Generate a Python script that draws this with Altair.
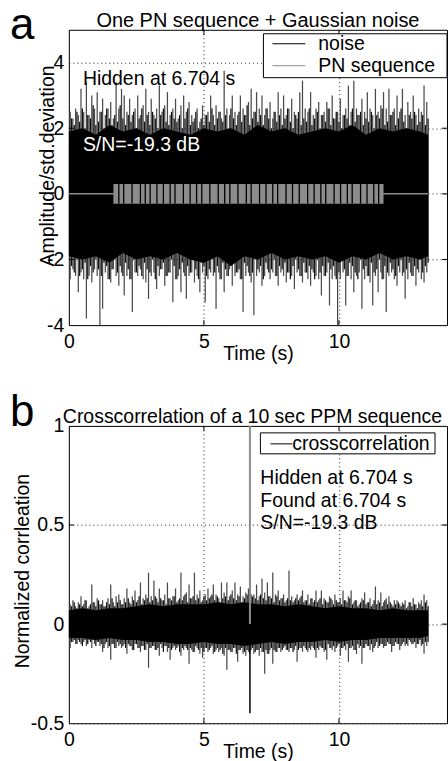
import altair as alt
import pandas as pd

# ---------------- data ----------------
# panel a: per-bin (0.1 s) extremes of the Gaussian noise
BIN_START = 0.05
BIN_STEP = 0.1
TOP_A = [2.5,2.3,2.6,2.4,3.2,2.5,3.4,2.4,3.0,2.6,
         3.1,2.5,2.9,2.4,2.6,2.8,2.3,3.4,2.6,3.2,
         3.0,2.5,2.9,2.4,2.6,3.0,2.4,2.7,3.2,2.5,
         2.9,2.4,2.6,3.3,2.5,2.7,3.1,2.4,2.6,2.9,
         2.3,2.7,3.0,2.5,2.8,2.4,2.3,2.6,2.2,2.7,
         2.4,2.5,3.0,2.4,2.7,2.5,2.3,3.75,2.6,2.4,
         3.0,2.5,2.4,3.0,2.6,2.4,2.8,3.2,2.5,3.1,
         2.6,3.0,2.4,2.6,2.8,2.3,2.5,3.1,2.6,3.0,
         2.4,2.6,2.9,2.5,2.3,3.1,3.45,2.6,2.5,3.1,
         2.4,2.6,2.8,2.4,2.5,2.8,2.6,3.0,2.3,2.5,
         2.9,2.4,2.6,3.3,2.5,3.45,2.6,2.4,2.9,2.5,
         3.1,2.6,2.4,3.2,2.5,2.7,3.1,2.6,3.2,2.4,
         2.6,3.0,2.5,3.2,2.4,2.8,2.5,3.0,2.4,2.6,
         2.5,3.3,2.8]
BOT_A = [-2.6,-2.3,-2.5,-3.0,-2.4,-2.6,-3.8,-2.5,-2.7,-2.3,
         -2.5,-4.0,-3.5,-2.4,-2.6,-2.7,-2.3,-2.5,-2.8,-2.4,
         -3.1,-2.5,-2.6,-3.6,-2.4,-2.5,-2.3,-2.6,-2.7,-3.2,
         -2.5,-2.4,-2.9,-2.5,-2.3,-2.8,-2.5,-2.4,-3.3,-2.6,
         -2.5,-3.0,-2.4,-3.2,-2.5,-2.4,-2.7,-2.5,-3.0,-2.4,
         -3.3,-2.6,-2.4,-2.5,-3.5,-2.4,-2.6,-3.0,-2.5,-2.3,
         -2.8,-2.5,-2.4,-2.6,-3.6,-2.5,-2.4,-2.7,-3.7,-2.5,
         -2.4,-2.8,-2.5,-2.3,-2.6,-2.4,-2.5,-2.8,-2.4,-2.5,
         -2.7,-2.4,-2.5,-2.9,-2.4,-2.5,-2.7,-2.4,-2.6,-2.8,
         -2.4,-2.5,-2.6,-3.1,-2.5,-2.4,-3.4,-2.6,-2.5,-4.0,
         -2.6,-2.4,-3.4,-2.5,-2.6,-3.0,-2.5,-2.4,-3.5,-2.6,
         -2.5,-2.7,-3.4,-2.5,-3.0,-2.4,-2.6,-3.6,-2.5,-2.4,
         -2.6,-2.8,-2.4,-2.5,-3.2,-2.6,-2.4,-2.5,-2.8,-2.4,
         -2.6,-2.7,-2.4]
# secondary (in-between) noise extremes, bins offset by half a step
MID_START = 0.1
MID_TOP_A = [2.3,2.1,2.5,2.2,2.6,2.0,2.4,2.3,2.7,2.1,
             2.2,2.5,2.0,2.6,2.3,2.1,2.4,2.2,2.7,2.3,
             2.1,2.4,2.2,2.5,2.0,2.3,2.6,2.2,2.4,2.1,
             2.5,2.3,2.0,2.4,2.6,2.2,2.1,2.5,2.3,2.2,
             2.4,2.0,2.3,2.6,2.1,2.2,2.5,2.0,2.3,2.1,
             2.4,2.2,2.6,2.1,2.3,2.5,2.2,2.4,2.0,2.6,
             2.3,2.1,2.5,2.2,2.4,2.7,2.1,2.3,2.5,2.2,
             2.4,2.1,2.6,2.3,2.0,2.5,2.2,2.4,2.1,2.3,
             2.6,2.2,2.0,2.4,2.5,2.1,2.3,2.2,2.6,2.1,
             2.3,2.5,2.0,2.4,2.2,2.6,2.1,2.3,2.5,2.2,
             2.0,2.4,2.3,2.1,2.6,2.2,2.4,2.5,2.1,2.3,
             2.2,2.5,2.0,2.4,2.3,2.6,2.1,2.2,2.4,2.5,
             2.1,2.3,2.6,2.2,2.0,2.4,2.3,2.5,2.1,2.2,
             2.4,2.1,2.3]
MID_BOT_A = [-2.2,-2.4,-2.0,-2.5,-2.3,-2.1,-2.6,-2.2,-2.4,-2.0,
             -2.3,-2.5,-2.1,-2.2,-2.6,-2.3,-2.0,-2.4,-2.2,-2.5,
             -2.1,-2.3,-2.6,-2.0,-2.4,-2.2,-2.5,-2.1,-2.3,-2.4,
             -2.0,-2.6,-2.2,-2.3,-2.1,-2.5,-2.4,-2.0,-2.2,-2.6,
             -2.3,-2.1,-2.5,-2.2,-2.4,-2.0,-2.3,-2.6,-2.1,-2.2,
             -2.5,-2.3,-2.0,-2.4,-2.2,-2.6,-2.1,-2.3,-2.5,-2.2,
             -2.0,-2.4,-2.3,-2.6,-2.1,-2.2,-2.5,-2.4,-2.0,-2.3,
             -2.2,-2.6,-2.1,-2.4,-2.3,-2.0,-2.5,-2.2,-2.3,-2.1,
             -2.4,-2.6,-2.2,-2.0,-2.3,-2.5,-2.1,-2.4,-2.2,-2.3,
             -2.6,-2.0,-2.4,-2.2,-2.5,-2.1,-2.3,-2.2,-2.6,-2.4,
             -2.0,-2.3,-2.5,-2.1,-2.2,-2.4,-2.6,-2.0,-2.3,-2.2,
             -2.5,-2.1,-2.4,-2.3,-2.0,-2.6,-2.2,-2.4,-2.1,-2.3,
             -2.5,-2.2,-2.0,-2.4,-2.3,-2.1,-2.5,-2.2,-2.3,-2.0,
             -2.4,-2.2,-2.1]
# dense (solid black) core of the noise
CORE_TIME = [0.0,0.5,1.0,1.5,2.0,2.5,3.0,3.5,4.0,4.5,5.0,5.5,6.0,6.5,
             7.0,7.5,8.0,8.5,9.0,9.5,10.0,10.5,11.0,11.5,12.0,12.5,13.0,13.3]
CORE_TOP_A = [1.9,2.0,1.8,2.1,1.9,2.0,1.8,2.0,1.9,1.8,2.0,1.9,2.0,1.8,
              2.1,1.9,2.0,1.8,1.9,2.0,1.9,2.1,1.8,2.0,1.9,2.0,1.9,1.8]
CORE_BOT_A = [-1.9,-2.0,-1.9,-2.1,-1.8,-2.0,-1.9,-2.0,-1.8,-2.0,-2.1,-1.9,-2.2,-1.9,
              -2.0,-1.8,-2.0,-1.9,-2.0,-1.9,-2.1,-1.9,-2.0,-1.8,-2.0,-1.9,-2.0,-1.9]
SIGNAL_END = 13.3
# PN sequence
PN_START = 1.65
PN_END = 11.65
PN_AMP = 0.3
PN_GAPS = [1.85,2.03,2.34,2.65,2.83,3.01,3.26,3.5,3.75,3.93,4.24,4.49,4.73,4.92,
           5.22,5.53,5.77,5.96,6.26,6.57,6.75,7.06,7.3,7.55,7.73,8.04,8.28,8.53,
           8.84,9.08,9.33,9.51,9.82,10.06,10.31,10.49,10.8,11.04,11.29,11.47]

# panel b: crosscorrelation
TOP_B = [0.10,0.12,0.09,0.11,0.14,0.10,0.12,0.09,0.20,0.11,
         0.13,0.10,0.12,0.09,0.13,0.20,0.11,0.14,0.15,0.10,
         0.13,0.18,0.11,0.14,0.17,0.12,0.21,0.13,0.15,0.26,
         0.14,0.22,0.13,0.18,0.12,0.15,0.21,0.13,0.14,0.18,
         0.12,0.26,0.14,0.16,0.20,0.13,0.26,0.15,0.17,0.12,
         0.15,0.18,0.14,0.20,0.15,0.13,0.21,0.16,0.21,0.14,
         0.17,0.21,0.15,0.19,0.14,0.16,0.18,0.15,0.15,0.20,
         0.14,0.23,0.16,0.21,0.14,0.26,0.15,0.17,0.13,0.15,
         0.12,0.27,0.14,0.12,0.15,0.13,0.17,0.12,0.15,0.13,
         0.11,0.17,0.12,0.17,0.13,0.11,0.14,0.12,0.15,0.11,
         0.13,0.17,0.12,0.14,0.17,0.11,0.12,0.10,0.13,0.16,
         0.11,0.13,0.10,0.19,0.12,0.16,0.11,0.13,0.14,0.10,
         0.12,0.12,0.10,0.11,0.12,0.09,0.11,0.13,0.10,0.11,
         0.12,0.15,0.12]
BOT_B = [-0.12,-0.09,-0.10,-0.08,-0.10,-0.09,-0.11,-0.08,-0.12,-0.10,
         -0.09,-0.11,-0.14,-0.10,-0.12,-0.18,-0.10,-0.12,-0.11,-0.12,
         -0.10,-0.15,-0.11,-0.13,-0.10,-0.12,-0.14,-0.11,-0.13,-0.22,
         -0.12,-0.11,-0.13,-0.16,-0.12,-0.11,-0.14,-0.18,-0.12,-0.13,
         -0.11,-0.16,-0.13,-0.12,-0.20,-0.13,-0.14,-0.12,-0.15,-0.17,
         -0.12,-0.14,-0.12,-0.15,-0.13,-0.14,-0.12,-0.16,-0.23,-0.13,
         -0.14,-0.12,-0.19,-0.13,-0.15,-0.16,-0.14,-0.13,-0.15,-0.13,
         -0.16,-0.14,-0.25,-0.15,-0.13,-0.20,-0.14,-0.12,-0.14,-0.12,
         -0.13,-0.14,-0.12,-0.13,-0.19,-0.12,-0.14,-0.12,-0.14,-0.13,
         -0.12,-0.17,-0.13,-0.12,-0.14,-0.18,-0.12,-0.13,-0.14,-0.11,
         -0.16,-0.12,-0.13,-0.19,-0.12,-0.13,-0.15,-0.12,-0.20,-0.12,
         -0.11,-0.13,-0.14,-0.11,-0.12,-0.10,-0.12,-0.11,-0.10,-0.14,
         -0.11,-0.10,-0.13,-0.10,-0.11,-0.11,-0.09,-0.10,-0.12,-0.10,
         -0.11,-0.15,-0.11]
MID_TOP_B = [0.09,0.11,0.08,0.10,0.09,0.12,0.08,0.10,0.11,0.09,
             0.12,0.10,0.09,0.11,0.10,0.13,0.09,0.11,0.12,0.10,
             0.11,0.13,0.10,0.12,0.11,0.14,0.10,0.12,0.13,0.11,
             0.12,0.14,0.11,0.13,0.12,0.10,0.13,0.12,0.14,0.11,
             0.13,0.12,0.15,0.11,0.13,0.14,0.12,0.13,0.11,0.14,
             0.12,0.13,0.15,0.12,0.14,0.11,0.13,0.14,0.12,0.15,
             0.13,0.12,0.14,0.11,0.13,0.15,0.12,0.14,0.13,0.12,
             0.15,0.13,0.12,0.14,0.13,0.11,0.14,0.12,0.13,0.11,
             0.13,0.12,0.11,0.13,0.12,0.14,0.11,0.12,0.10,0.13,
             0.12,0.11,0.13,0.10,0.12,0.11,0.13,0.10,0.12,0.11,
             0.10,0.12,0.11,0.13,0.10,0.12,0.09,0.11,0.12,0.10,
             0.11,0.09,0.12,0.10,0.11,0.09,0.12,0.10,0.11,0.09,
             0.10,0.11,0.09,0.10,0.08,0.11,0.09,0.10,0.08,0.10,
             0.09,0.11,0.09]
MID_BOT_B = [-0.09,-0.08,-0.10,-0.09,-0.11,-0.08,-0.10,-0.09,-0.08,-0.11,
             -0.09,-0.10,-0.12,-0.09,-0.11,-0.10,-0.12,-0.09,-0.10,-0.11,
             -0.12,-0.10,-0.11,-0.13,-0.10,-0.12,-0.11,-0.13,-0.10,-0.12,
             -0.11,-0.13,-0.12,-0.10,-0.14,-0.11,-0.12,-0.13,-0.11,-0.12,
             -0.14,-0.12,-0.11,-0.13,-0.12,-0.14,-0.11,-0.13,-0.12,-0.14,
             -0.12,-0.13,-0.11,-0.14,-0.12,-0.13,-0.15,-0.12,-0.13,-0.14,
             -0.12,-0.15,-0.13,-0.12,-0.14,-0.13,-0.15,-0.12,-0.14,-0.13,
             -0.12,-0.14,-0.13,-0.15,-0.12,-0.13,-0.14,-0.12,-0.13,-0.11,
             -0.13,-0.12,-0.14,-0.11,-0.13,-0.12,-0.11,-0.13,-0.12,-0.11,
             -0.13,-0.12,-0.11,-0.12,-0.13,-0.10,-0.12,-0.11,-0.12,-0.10,
             -0.12,-0.11,-0.10,-0.12,-0.11,-0.13,-0.10,-0.11,-0.12,-0.10,
             -0.11,-0.10,-0.12,-0.09,-0.11,-0.10,-0.11,-0.09,-0.10,-0.11,
             -0.09,-0.10,-0.11,-0.09,-0.10,-0.08,-0.10,-0.09,-0.10,-0.08,
             -0.10,-0.09,-0.09]
CORE_TOP_B = [0.07,0.08,0.07,0.08,0.08,0.09,0.10,0.09,0.10,0.10,0.10,0.11,0.10,0.11,
              0.10,0.10,0.09,0.10,0.09,0.08,0.09,0.08,0.08,0.07,0.08,0.07,0.07,0.07]
CORE_BOT_B = [-0.07,-0.07,-0.08,-0.07,-0.08,-0.08,-0.09,-0.09,-0.10,-0.10,-0.09,-0.10,-0.10,-0.11,
              -0.10,-0.09,-0.10,-0.09,-0.09,-0.08,-0.09,-0.08,-0.08,-0.07,-0.07,-0.07,-0.07,-0.06]
PEAK_T = 6.704
PEAK_TOP = 1.0
PEAK_BLACK_HI = 0.29
PEAK_BLACK_LO = -0.45

X_TICKS = [0, 5, 10]
Y_TICKS_A = [-4, -2, 0, 2, 4]
Y_TICKS_B = [-0.5, 0, 0.5, 1]

# ---------------- layout / style ----------------
FONT = "Liberation Sans"
FS = 19.5
W, HA, HB = 379, 296, 298

bin_t = [round(BIN_START + BIN_STEP * i, 3) for i in range(len(TOP_A))]
mid_t = [round(MID_START + BIN_STEP * i, 3) for i in range(len(MID_TOP_A))]
ONE = pd.DataFrame({"k": [0]})

xscale = alt.Scale(domain=[0, 14], nice=False, zero=False)


def x_axis():
    return alt.Axis(values=X_TICKS, title="Time (s)", grid=True, gridDash=[1, 3],
                    gridColor="#222", gridWidth=1, ticks=False, domain=False,
                    labelPadding=7, labelFontSize=FS, labelFont=FONT, labelColor="black",
                    labelFlush=False, labelOverlap=False,
                    titleFont=FONT, titleFontSize=FS, titleFontWeight="normal",
                    titleColor="black", titleX=W / 2, titleY=34,
                    titleBaseline="alphabetic", titleAlign="center")


def y_axis(vals, title, H, tx, ty):
    return alt.Axis(values=vals, title=title, grid=True, gridDash=[1, 3],
                    gridColor="#222", gridWidth=1, ticks=False, domain=False,
                    labelPadding=5, labelFontSize=FS, labelFont=FONT, labelColor="black",
                    labelExpr="toString(datum.value)", labelFlush=False, labelOverlap=False,
                    titleFont=FONT, titleFontSize=FS, titleFontWeight="normal",
                    titleColor="black", titleAngle=270, titleX=tx, titleY=ty,
                    titleAlign="center", titleBaseline="alphabetic")


def panel(top, bot, mtop, mbot, ctop, cbot, ydom, yticks, ytitle, H, tx, ty):
    yscale = alt.Scale(domain=ydom, nice=False, zero=False)
    ya = y_axis(yticks, ytitle, H, tx, ty)
    xa = x_axis()

    def X(f):
        return alt.X(f"{f}:Q", scale=xscale, axis=xa)

    def Y(f):
        return alt.Y(f"{f}:Q", scale=yscale, axis=ya)

    spikes = pd.DataFrame({"t": bin_t, "lo": bot, "hi": top})
    mids = pd.DataFrame({"t": mid_t, "lo": mbot, "hi": mtop})
    core = pd.DataFrame({"t": CORE_TIME, "lo": cbot, "hi": ctop})
    layers = [
        alt.Chart(ONE).mark_rect(opacity=0).encode(
            x=alt.value(-68), x2=alt.value(0), y=alt.value(-28), y2=alt.value(0)),
        alt.Chart(spikes).mark_rule(color="#4a4a4a", strokeWidth=1.25).encode(
            x=X("t"), y=Y("lo"), y2="hi"),
        alt.Chart(mids).mark_rule(color="#111", strokeWidth=1.25).encode(
            x=X("t"), y=Y("lo"), y2="hi"),
        alt.Chart(core).mark_area(color="black", opacity=1).encode(
            x=X("t"), y=Y("lo"), y2="hi"),
    ]
    # inside ticks
    tx_df = pd.DataFrame({"t": X_TICKS[1:]})
    ty_df = pd.DataFrame({"v": yticks[1:-1]})
    layers += [
        alt.Chart(tx_df).mark_rule(color="black").encode(x=X("t"), y=alt.value(H), y2=alt.value(H - 5)),
        alt.Chart(tx_df).mark_rule(color="black").encode(x=X("t"), y=alt.value(0), y2=alt.value(5)),
        alt.Chart(ty_df).mark_rule(color="black").encode(y=Y("v"), x=alt.value(0), x2=alt.value(5)),
        alt.Chart(ty_df).mark_rule(color="black").encode(y=Y("v"), x=alt.value(W), x2=alt.value(W - 5)),
    ]
    return layers, X, Y


def txt(s, x, y, size=FS, color="black", align="left", baseline="middle"):
    return alt.Chart(ONE).mark_text(text=s, font=FONT, fontSize=size, color=color,
                                    align=align, baseline=baseline).encode(
        x=alt.value(x), y=alt.value(y))


# ---------- panel a ----------
layers_a, XA, YA = panel(TOP_A, BOT_A, MID_TOP_A, MID_BOT_A, CORE_TOP_A, CORE_BOT_A,
                         [-4, 5], Y_TICKS_A, "Amplitude/std.deviation", HA, -15, HA / 2 - 12)
zero_df = pd.DataFrame({"t": [0.0], "t2": [SIGNAL_END], "v": [0.0]})
pn_df = pd.DataFrame({"t": [PN_START], "t2": [PN_END], "lo": [-PN_AMP], "hi": [PN_AMP]})
gap_df = pd.DataFrame({"t": PN_GAPS, "lo": [-PN_AMP] * len(PN_GAPS), "hi": [PN_AMP] * len(PN_GAPS)})
ann_a = pd.DataFrame({"t": [0.52, 0.52], "v": [3.51, 1.50],
                      "s": ["Hidden at 6.704 s", "S/N=-19.3 dB"], "c": ["black", "white"]})
layers_a += [
    alt.Chart(zero_df).mark_rule(color="#8c8c8c", strokeWidth=1.5).encode(
        x=XA("t"), x2="t2", y=YA("v")),
    alt.Chart(pn_df).mark_rect(color="#8c8c8c").encode(x=XA("t"), x2="t2", y=YA("lo"), y2="hi"),
    alt.Chart(gap_df).mark_rule(color="black", strokeWidth=1.3).encode(
        x=XA("t"), y=YA("lo"), y2="hi"),
    alt.Chart(ann_a).mark_text(font=FONT, fontSize=FS, align="left", baseline="middle").encode(
        x=XA("t"), y=YA("v"), text="s:N", color=alt.Color("c:N", scale=None)),
    # legend
    alt.Chart(ONE).mark_rect(fill="white", stroke="black", strokeWidth=1).encode(
        x=alt.value(195), x2=alt.value(W), y=alt.value(4), y2=alt.value(48)),
    alt.Chart(ONE).mark_rule(color="black", strokeWidth=1).encode(
        x=alt.value(204), x2=alt.value(237), y=alt.value(14)),
    alt.Chart(ONE).mark_rule(color="#8c8c8c", strokeWidth=1).encode(
        x=alt.value(204), x2=alt.value(237), y=alt.value(36)),
    txt("noise", 250, 14),
    txt("PN sequence", 250, 36),
    txt("One PN sequence + Gaussian noise", W / 2, -3, size=20, align="center", baseline="alphabetic"),
    txt("a", -59, 9, size=44, baseline="alphabetic"),
]
panel_a = alt.layer(*layers_a).properties(width=W, height=HA)

# ---------- panel b ----------
layers_b, XB, YB = panel(TOP_B, BOT_B, MID_TOP_B, MID_BOT_B, CORE_TOP_B, CORE_BOT_B,
                         [-0.5, 1], Y_TICKS_B, "Normalized corrleation", HB, -40, HB / 2 - 4)
peak_black = pd.DataFrame({"t": [PEAK_T], "lo": [PEAK_BLACK_LO], "hi": [PEAK_BLACK_HI]})
peak_gray = pd.DataFrame({"t": [PEAK_T], "lo": [0.0], "hi": [PEAK_TOP]})
ann_b = pd.DataFrame({"t": [7.09, 7.09, 7.09], "v": [0.738, 0.623, 0.512],
                      "s": ["Hidden at 6.704 s", "Found at 6.704 s", "S/N=-19.3 dB"]})
layers_b += [
    alt.Chart(peak_black).mark_rule(color="black", strokeWidth=1.5).encode(
        x=XB("t"), y=YB("lo"), y2="hi"),
    alt.Chart(peak_gray).mark_rule(color="#8c8c8c", strokeWidth=2).encode(
        x=XB("t"), y=YB("lo"), y2="hi"),
    alt.Chart(ann_b).mark_text(font=FONT, fontSize=FS, align="left", baseline="middle",
                               color="black").encode(x=XB("t"), y=YB("v"), text="s:N"),
    alt.Chart(ONE).mark_rect(fill="white", stroke="black", strokeWidth=1).encode(
        x=alt.value(192), x2=alt.value(367), y=alt.value(7), y2=alt.value(28)),
    alt.Chart(ONE).mark_rule(color="black", strokeWidth=1).encode(
        x=alt.value(202), x2=alt.value(224), y=alt.value(18)),
    txt("crosscorrelation", 224, 18),
    txt("Crosscorrelation of a 10 sec PPM sequence", -6, -3, size=19.5, baseline="alphabetic"),
    txt("b", -59, 0, size=44, baseline="alphabetic"),
]
panel_b = alt.layer(*layers_b).properties(width=W, height=HB)

chart = alt.vconcat(panel_a, panel_b, spacing=101, bounds="flush").properties(
    padding=0, background="white"
).configure_view(stroke="black", strokeWidth=1)

chart.save("out.html", embed_options={"renderer": "svg", "actions": False})
